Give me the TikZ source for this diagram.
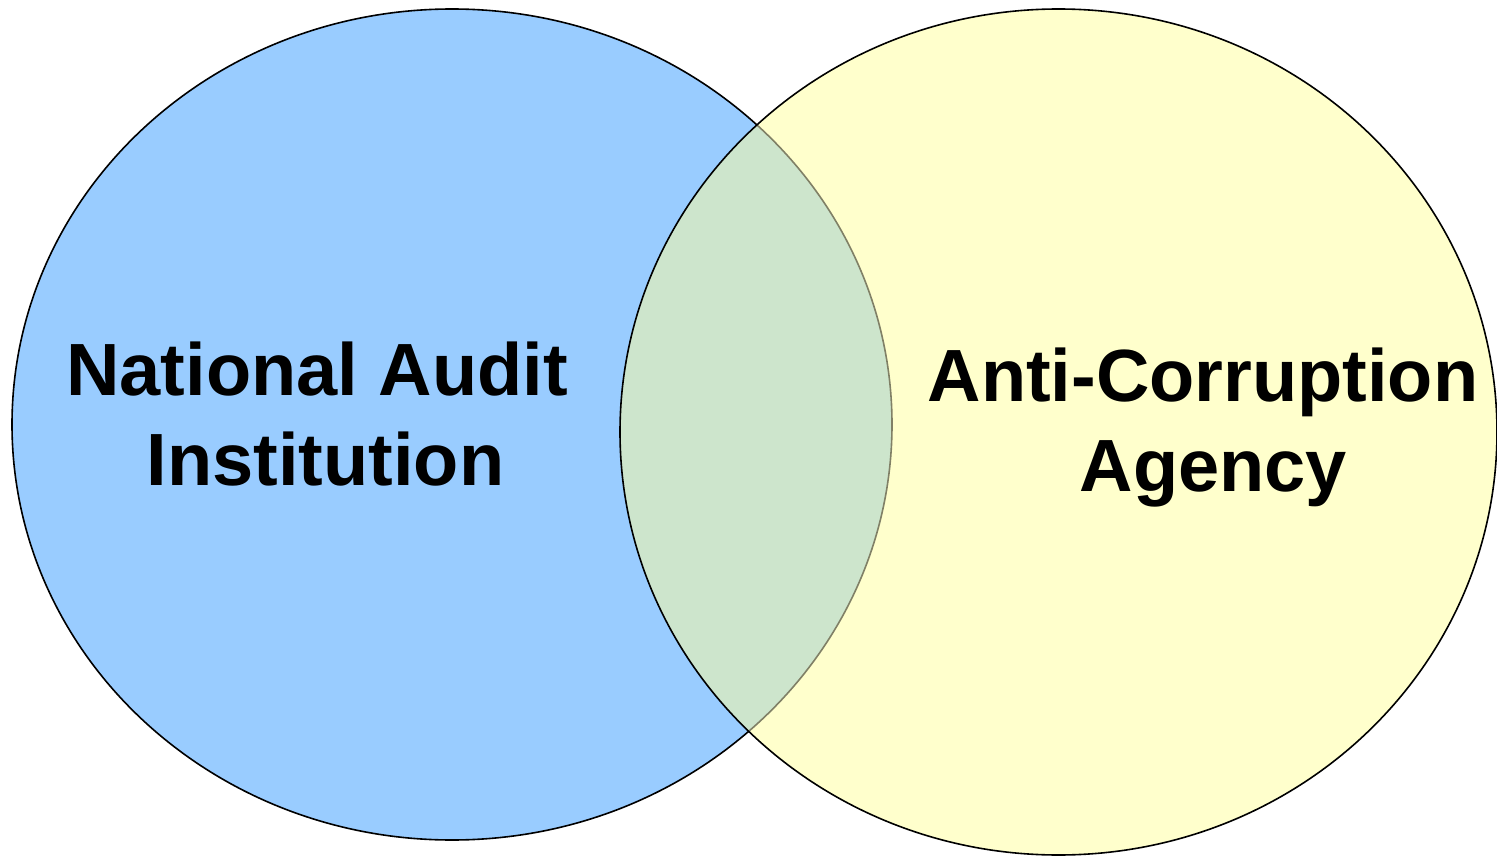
\documentclass[tikz,border=0pt]{standalone}
\usepackage{fontspec}
\setmainfont{Liberation Sans}
\definecolor{nablue}{RGB}{153,204,255}
\definecolor{acyellow}{RGB}{255,255,204}
\definecolor{overlapgreen}{RGB}{205,229,204}
\begin{document}
\begin{tikzpicture}[x=1pt,y=-1pt,
  venn/.style={line width=1.6pt},
  vlabel/.style={font=\fontsize{74}{90}\selectfont\bfseries, align=center, inner sep=0pt}]
\useasboundingbox (0,0) rectangle (1497,856);
% left ellipse
\fill[nablue] (452,424.5) ellipse [x radius=440, y radius=415.5];
% right ellipse fill
\fill[acyellow] (1058.5,432) ellipse [x radius=438.5, y radius=423];
% overlap
\begin{scope}
  \clip (1058.5,432) ellipse [x radius=438.5, y radius=423];
  \fill[overlapgreen] (452,424.5) ellipse [x radius=440, y radius=415.5];
  \draw[venn, draw=black!50!acyellow] (452,424.5) ellipse [x radius=440, y radius=415.5];
\end{scope}
% left border outside overlap
\begin{scope}[even odd rule]
  \clip (0,0) rectangle (1497,856) (1058.5,432) ellipse [x radius=438.5, y radius=423];
  \draw[venn] (452,424.5) ellipse [x radius=440, y radius=415.5];
\end{scope}
% right border
\draw[venn] (1058.5,432) ellipse [x radius=438.5, y radius=423];
\node[vlabel] (nai) at (317,414) {National Audit\\\hspace*{17pt}Institution};
\node[vlabel] (aca) at (1203,428) {Anti-Corruption\\\hspace*{21pt}Agency};
\end{tikzpicture}
\end{document}
